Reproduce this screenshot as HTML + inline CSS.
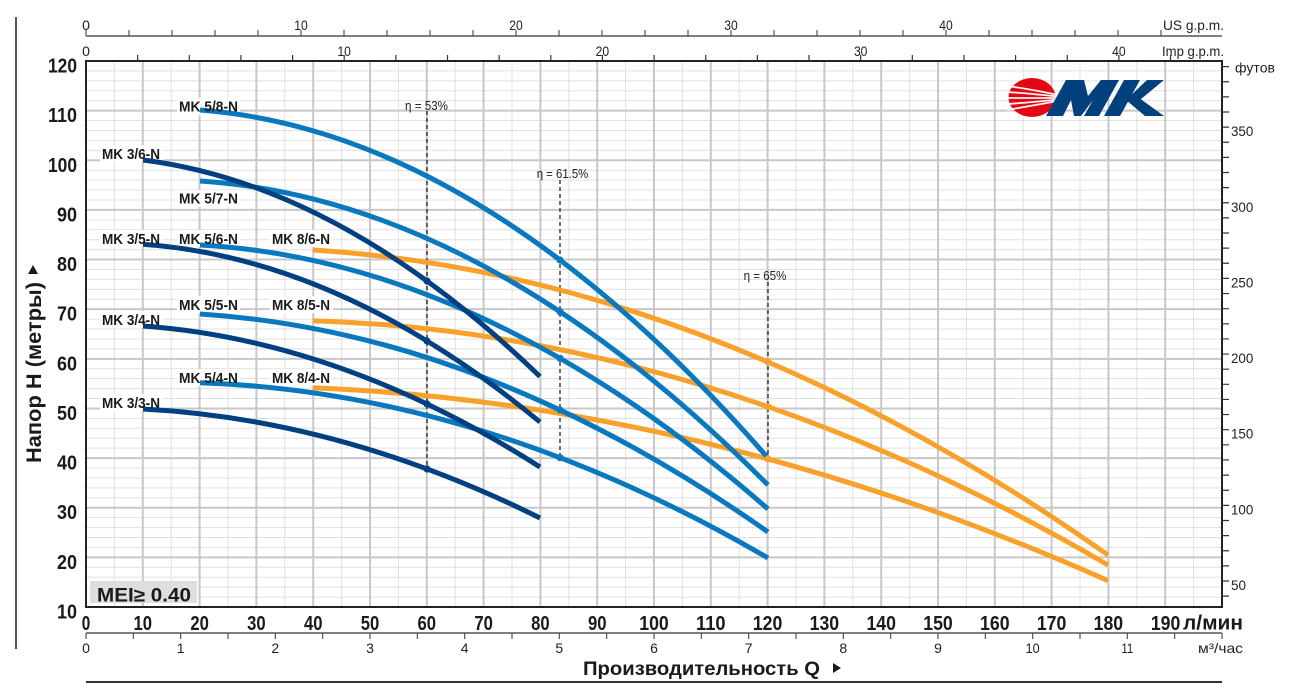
<!DOCTYPE html>
<html><head><meta charset="utf-8"><style>
html,body{margin:0;padding:0;background:#fff;}
svg{display:block;font-family:"Liberation Sans",Arial,sans-serif;}
</style></head><body>
<svg width="1292" height="692" viewBox="0 0 1292 692" xmlns="http://www.w3.org/2000/svg">
<rect width="1292" height="692" fill="#fff"/>
<!-- minor grid -->
<path stroke="#e0e0e0" stroke-width="1" fill="none" d="M114.4,61V607M171.2,61V607M228,61V607M284.8,61V607M341.6,61V607M398.4,61V607M455.2,61V607M512,61V607M568.8,61V607M625.6,61V607M682.4,61V607M739.2,61V607M796,61V607M852.8,61V607M909.6,61V607M966.4,61V607M1023.2,61V607M1080,61V607M1136.8,61V607M1193.6,61V607
M86,597.07H1222M86,587.15H1222M86,577.22H1222M86,567.29H1222M86,547.44H1222M86,537.51H1222M86,527.58H1222M86,517.66H1222M86,497.8H1222M86,487.87H1222M86,477.94H1222M86,468.02H1222M86,448.16H1222M86,438.24H1222M86,428.31H1222M86,418.38H1222M86,398.53H1222M86,388.6H1222M86,378.67H1222M86,368.75H1222M86,348.89H1222M86,338.96H1222M86,329.04H1222M86,319.11H1222M86,299.25H1222M86,289.33H1222M86,279.4H1222M86,269.47H1222M86,249.62H1222M86,239.69H1222M86,229.76H1222M86,219.84H1222M86,199.98H1222M86,190.05H1222M86,180.13H1222M86,170.2H1222M86,150.35H1222M86,140.42H1222M86,130.49H1222M86,120.56H1222M86,100.71H1222M86,90.78H1222M86,80.85H1222M86,70.93H1222"/>
<!-- major grid -->
<path stroke="#c8c8c8" stroke-width="2" fill="none" d="M142.8,61V607M199.6,61V607M256.4,61V607M313.2,61V607M370,61V607M426.8,61V607M483.6,61V607M540.4,61V607M597.2,61V607M654,61V607M710.8,61V607M767.6,61V607M824.4,61V607M881.2,61V607M938,61V607M994.8,61V607M1051.6,61V607M1108.4,61V607M1165.2,61V607
M86,557.36H1222M86,507.73H1222M86,458.09H1222M86,408.45H1222M86,358.82H1222M86,309.18H1222M86,259.55H1222M86,209.91H1222M86,160.27H1222M86,110.64H1222"/>

<!-- label backgrounds -->
<g fill="#fff">
<rect x="177" y="98" width="63" height="17"/>
<rect x="100" y="145" width="63" height="17"/>
<rect x="177" y="190" width="63" height="17"/>
<rect x="100" y="230" width="63" height="17"/>
<rect x="177" y="230" width="63" height="17"/>
<rect x="270" y="230" width="63" height="17"/>
<rect x="177" y="296" width="63" height="17"/>
<rect x="270" y="296" width="63" height="17"/>
<rect x="100" y="311" width="63" height="17"/>
<rect x="177" y="369" width="63" height="17"/>
<rect x="270" y="369" width="63" height="17"/>
<rect x="100" y="394" width="63" height="17"/>
</g>

<!-- MEI box -->
<rect x="90" y="581" width="107" height="22" fill="#dedede"/>
<text x="97" y="601.5" font-size="19" font-weight="bold" fill="#1a1a1a" textLength="94" lengthAdjust="spacingAndGlyphs">MEI≥ 0.40</text>

<!-- efficiency lines -->
<g stroke="#222" stroke-width="1.3" stroke-dasharray="4 3" fill="none">
<path d="M427,111V469"/>
<path d="M560,180V458"/>
<path d="M768,282V459"/>
</g>
<g font-size="13" fill="#222" text-anchor="middle">
<text x="426.5" y="110" textLength="43" lengthAdjust="spacingAndGlyphs">η = 53%</text>
<text x="562.5" y="178" textLength="51.6" lengthAdjust="spacingAndGlyphs">η = 61.5%</text>
<text x="765" y="280" textLength="42.7" lengthAdjust="spacingAndGlyphs">η = 65%</text>
</g>

<!-- orange curves -->
<g stroke="#f9a12b" stroke-width="5" fill="none">
<path d="M313,250 Q710.5,274.7 1108,555"/>
<path d="M313,320.7 Q710.5,332.91 1108,565"/>
<path d="M313,387.7 Q710.5,404.2 1108,580.7"/>
</g>
<!-- blue curves -->
<g stroke="#0a78be" stroke-width="5" fill="none">
<path d="M200,110 Q484,131.99 768,458"/>
<path d="M200,181 Q484,199.49 768,485"/>
<path d="M200,245 Q484,260.62 768,509"/>
<path d="M200,314 Q484,332.16 768,532"/>
<path d="M200,382.7 Q484,392.58 768,558"/>
</g>
<!-- navy curves -->
<g stroke="#004080" stroke-width="5" fill="none">
<path d="M143,160 Q341.5,185.07 540,376.5"/>
<path d="M143,244.3 Q341.5,258.45 540,422"/>
<path d="M143,326 Q341.5,340.35 540,467"/>
<path d="M143,409 Q341.5,419.36 540,518"/>
</g>
<!-- dots -->
<g fill="#004080">
<circle cx="427" cy="281" r="3.6"/><circle cx="427" cy="341" r="3.6"/><circle cx="427" cy="404" r="3.6"/><circle cx="427" cy="469" r="3.6"/>
</g>
<g fill="#0a78be">
<circle cx="560" cy="260" r="3.6"/><circle cx="560" cy="311.7" r="3.6"/><circle cx="560" cy="358.3" r="3.6"/><circle cx="560" cy="410" r="3.6"/><circle cx="560" cy="457.7" r="3.6"/>
</g>
<g fill="#f9a12b">
<circle cx="768" cy="362" r="3.6"/><circle cx="768" cy="406.7" r="3.6"/><circle cx="768" cy="459" r="3.6"/>
</g>

<!-- curve labels -->
<g font-size="15" font-weight="bold" fill="#1a1a1a">
<text x="179" y="111.5" textLength="59" lengthAdjust="spacingAndGlyphs">MK 5/8-N</text>
<text x="102" y="159" textLength="58" lengthAdjust="spacingAndGlyphs">MK 3/6-N</text>
<text x="179" y="203.5" textLength="59" lengthAdjust="spacingAndGlyphs">MK 5/7-N</text>
<text x="102" y="244" textLength="58" lengthAdjust="spacingAndGlyphs">MK 3/5-N</text>
<text x="179" y="244" textLength="59" lengthAdjust="spacingAndGlyphs">MK 5/6-N</text>
<text x="272" y="244" textLength="58" lengthAdjust="spacingAndGlyphs">MK 8/6-N</text>
<text x="179" y="310" textLength="59" lengthAdjust="spacingAndGlyphs">MK 5/5-N</text>
<text x="272" y="310" textLength="58" lengthAdjust="spacingAndGlyphs">MK 8/5-N</text>
<text x="102" y="325" textLength="58" lengthAdjust="spacingAndGlyphs">MK 3/4-N</text>
<text x="179" y="383" textLength="59" lengthAdjust="spacingAndGlyphs">MK 5/4-N</text>
<text x="272" y="383" textLength="58" lengthAdjust="spacingAndGlyphs">MK 8/4-N</text>
<text x="102" y="408" textLength="58" lengthAdjust="spacingAndGlyphs">MK 3/3-N</text>
</g>

<!-- logo -->
<ellipse cx="1032" cy="97.5" rx="23.5" ry="19.5" fill="#e30613"/>
<g stroke="#fff" stroke-width="1.8" fill="none" opacity="0.95">
<path d="M1007,86 Q1030,89 1058,95"/>
<path d="M1007,92 Q1030,93.5 1058,96.5"/>
<path d="M1007,98 L1058,98"/>
<path d="M1007,104 Q1030,102.5 1058,99.5"/>
<path d="M1007,110 Q1030,106 1058,101"/>
</g>
<g fill="#00407d">
<polygon points="1046,116 1066,80 1084,80 1088,96 1101,80 1119,80 1099,116 1084,116 1093,100 1081,116 1074,116 1071,100 1063,116"/>
<polygon points="1104,116 1124,80 1140,80 1120,116"/>
<polygon points="1126,100 1147,80 1164,80 1135,104"/>
<polygon points="1126,100 1135,95 1164,116 1145,116"/>
</g>

<!-- plot frame -->
<rect x="86" y="61" width="1136" height="546" fill="none" stroke="#222" stroke-width="2"/>

<!-- left vertical line -->
<path d="M16,17V649" stroke="#555" stroke-width="2"/>

<!-- US gpm axis -->
<path d="M86,36H1222" stroke="#555" stroke-width="1.4"/>
<path stroke="#555" stroke-width="1.2" d="M86,30V36M129,30V36M172,30V36M215,30V36M258,30V36M301,30V36M344,30V36M387,30V36M430,30V36M473,30V36M516,30V36M559,30V36M602,30V36M645,30V36M688,30V36M731,30V36M774,30V36M817,30V36M860,30V36M903,30V36M946,30V36M989,30V36M1032,30V36M1075,30V36M1118,30V36M1161,30V36"/>
<g font-size="14" fill="#222" text-anchor="middle">
<text x="86" y="30">0</text>
<text x="301" y="30" textLength="13.5" lengthAdjust="spacingAndGlyphs">10</text>
<text x="516" y="30" textLength="13.5" lengthAdjust="spacingAndGlyphs">20</text>
<text x="731" y="30" textLength="13.5" lengthAdjust="spacingAndGlyphs">30</text>
<text x="946" y="30" textLength="13.5" lengthAdjust="spacingAndGlyphs">40</text>
<text x="86" y="56">0</text>
<text x="344.2" y="56" textLength="13.5" lengthAdjust="spacingAndGlyphs">10</text>
<text x="602.4" y="56" textLength="13.5" lengthAdjust="spacingAndGlyphs">20</text>
<text x="860.7" y="56" textLength="13.5" lengthAdjust="spacingAndGlyphs">30</text>
<text x="1118.9" y="56" textLength="13.5" lengthAdjust="spacingAndGlyphs">40</text>
</g>
<g font-size="14" fill="#222" text-anchor="end">
<text x="1224" y="30" textLength="61" lengthAdjust="spacingAndGlyphs">US g.p.m.</text>
<text x="1224" y="56" textLength="62" lengthAdjust="spacingAndGlyphs">Imp g.p.m.</text>
</g>
<!-- Imp ticks -->
<path stroke="#333" stroke-width="1.2" d="M137.64,55V61M189.29,55V61M240.93,55V61M292.58,55V61M344.22,55V61M395.86,55V61M447.51,55V61M499.15,55V61M550.8,55V61M602.44,55V61M654.08,55V61M705.73,55V61M757.37,55V61M809.02,55V61M860.66,55V61M912.3,55V61M963.95,55V61M1015.59,55V61M1067.24,55V61M1118.88,55V61M1170.52,55V61"/>

<!-- feet axis -->
<path stroke="#333" stroke-width="1.2" d="M1222,596.12H1229M1222,580.99H1229M1222,565.86H1229M1222,550.73H1229M1222,535.6H1229M1222,520.47H1229M1222,505.35H1229M1222,490.22H1229M1222,475.09H1229M1222,459.96H1229M1222,444.83H1229M1222,429.7H1229M1222,414.57H1229M1222,399.44H1229M1222,384.31H1229M1222,369.18H1229M1222,354.05H1229M1222,338.93H1229M1222,323.8H1229M1222,308.67H1229M1222,293.54H1229M1222,278.41H1229M1222,263.28H1229M1222,248.15H1229M1222,233.02H1229M1222,217.89H1229M1222,202.76H1229M1222,187.63H1229M1222,172.51H1229M1222,157.38H1229M1222,142.25H1229M1222,127.12H1229M1222,111.99H1229M1222,96.86H1229M1222,81.73H1229M1222,66.6H1229"/>
<g font-size="14" fill="#222">
<text x="1231" y="590" textLength="15" lengthAdjust="spacingAndGlyphs">50</text>
<text x="1231" y="514.3" textLength="22.3" lengthAdjust="spacingAndGlyphs">100</text>
<text x="1231" y="438.7" textLength="22.3" lengthAdjust="spacingAndGlyphs">150</text>
<text x="1231" y="363" textLength="22.3" lengthAdjust="spacingAndGlyphs">200</text>
<text x="1231" y="287.4" textLength="22.3" lengthAdjust="spacingAndGlyphs">250</text>
<text x="1231" y="211.8" textLength="22.3" lengthAdjust="spacingAndGlyphs">300</text>
<text x="1231" y="136.1" textLength="22.3" lengthAdjust="spacingAndGlyphs">350</text>
<text x="1235" y="72.7" textLength="40" lengthAdjust="spacingAndGlyphs">футов</text>
</g>

<!-- Y axis labels -->
<g font-size="20" font-weight="bold" fill="#1a1a1a" text-anchor="end">
<text x="77" y="618.5" textLength="20" lengthAdjust="spacingAndGlyphs">10</text>
<text x="77" y="568.9" textLength="20" lengthAdjust="spacingAndGlyphs">20</text>
<text x="77" y="519.2" textLength="20" lengthAdjust="spacingAndGlyphs">30</text>
<text x="77" y="469.6" textLength="20" lengthAdjust="spacingAndGlyphs">40</text>
<text x="77" y="420" textLength="20" lengthAdjust="spacingAndGlyphs">50</text>
<text x="77" y="370.3" textLength="20" lengthAdjust="spacingAndGlyphs">60</text>
<text x="77" y="320.7" textLength="20" lengthAdjust="spacingAndGlyphs">70</text>
<text x="77" y="271" textLength="20" lengthAdjust="spacingAndGlyphs">80</text>
<text x="77" y="221.4" textLength="20" lengthAdjust="spacingAndGlyphs">90</text>
<text x="77" y="171.8" textLength="29" lengthAdjust="spacingAndGlyphs">100</text>
<text x="77" y="122.1" textLength="29" lengthAdjust="spacingAndGlyphs">110</text>
<text x="77" y="72.5" textLength="29" lengthAdjust="spacingAndGlyphs">120</text>
</g>
<!-- Y title -->
<text transform="translate(41,463) rotate(-90)" font-size="21" font-weight="bold" fill="#1a1a1a" textLength="181" lengthAdjust="spacingAndGlyphs">Напор  H (метры)</text>
<polygon points="28,274 38,274 33,265" fill="#1a1a1a"/>

<!-- bottom l/min labels -->
<g font-size="20" font-weight="bold" fill="#1a1a1a" text-anchor="middle">
<text x="86" y="630" textLength="8.5" lengthAdjust="spacingAndGlyphs">0</text>
<text x="142.8" y="630" textLength="18.5" lengthAdjust="spacingAndGlyphs">10</text>
<text x="199.6" y="630" textLength="18.5" lengthAdjust="spacingAndGlyphs">20</text>
<text x="256.4" y="630" textLength="18.5" lengthAdjust="spacingAndGlyphs">30</text>
<text x="313.2" y="630" textLength="18.5" lengthAdjust="spacingAndGlyphs">40</text>
<text x="370" y="630" textLength="18.5" lengthAdjust="spacingAndGlyphs">50</text>
<text x="426.8" y="630" textLength="18.5" lengthAdjust="spacingAndGlyphs">60</text>
<text x="483.6" y="630" textLength="18.5" lengthAdjust="spacingAndGlyphs">70</text>
<text x="540.4" y="630" textLength="18.5" lengthAdjust="spacingAndGlyphs">80</text>
<text x="597.2" y="630" textLength="18.5" lengthAdjust="spacingAndGlyphs">90</text>
<text x="654" y="630" textLength="29.5" lengthAdjust="spacingAndGlyphs">100</text>
<text x="710.8" y="630" textLength="29.5" lengthAdjust="spacingAndGlyphs">110</text>
<text x="767.6" y="630" textLength="29.5" lengthAdjust="spacingAndGlyphs">120</text>
<text x="824.4" y="630" textLength="29.5" lengthAdjust="spacingAndGlyphs">130</text>
<text x="881.2" y="630" textLength="29.5" lengthAdjust="spacingAndGlyphs">140</text>
<text x="938" y="630" textLength="29.5" lengthAdjust="spacingAndGlyphs">150</text>
<text x="994.8" y="630" textLength="29.5" lengthAdjust="spacingAndGlyphs">160</text>
<text x="1051.6" y="630" textLength="29.5" lengthAdjust="spacingAndGlyphs">170</text>
<text x="1108.4" y="630" textLength="29.5" lengthAdjust="spacingAndGlyphs">180</text>
<text x="1165.6" y="630" textLength="29.5" lengthAdjust="spacingAndGlyphs">190</text>
</g>
<text x="1183" y="629.5" font-size="20" font-weight="bold" fill="#1a1a1a" textLength="60" lengthAdjust="spacingAndGlyphs">л/мин</text>

<!-- m3/h axis -->
<path d="M86,633H1222" stroke="#555" stroke-width="1.4"/>
<path stroke="#555" stroke-width="1.2" d="M86,633V639M133.33,633V639M180.67,633V639M228,633V639M275.33,633V639M322.67,633V639M370,633V639M417.33,633V639M464.67,633V639M512,633V639M559.33,633V639M606.67,633V639M654,633V639M701.33,633V639M748.67,633V639M796,633V639M843.33,633V639M890.67,633V639M938,633V639M985.33,633V639M1032.67,633V639M1080,633V639M1127.33,633V639M1174.67,633V639M1222,633V639"/>
<g font-size="14" fill="#222" text-anchor="middle">
<text x="86" y="653">0</text>
<text x="180.67" y="653">1</text>
<text x="275.33" y="653">2</text>
<text x="370" y="653">3</text>
<text x="464.67" y="653">4</text>
<text x="559.33" y="653">5</text>
<text x="654" y="653">6</text>
<text x="748.67" y="653">7</text>
<text x="843.33" y="653">8</text>
<text x="938" y="653">9</text>
<text x="1032.67" y="653" textLength="14" lengthAdjust="spacingAndGlyphs">10</text>
<text x="1127.33" y="653" textLength="12" lengthAdjust="spacingAndGlyphs">11</text>
</g>
<text x="1243" y="653" font-size="14" fill="#222" text-anchor="end" textLength="45" lengthAdjust="spacingAndGlyphs">м³/час</text>

<!-- X title -->
<text x="583" y="675" font-size="19" font-weight="bold" fill="#1a1a1a" textLength="237" lengthAdjust="spacingAndGlyphs">Производительность Q</text>
<polygon points="833,663 841,668 833,673" fill="#1a1a1a"/>

<!-- bottom line -->
<path d="M86,682H1222" stroke="#333" stroke-width="2"/>
</svg>
</body></html>
